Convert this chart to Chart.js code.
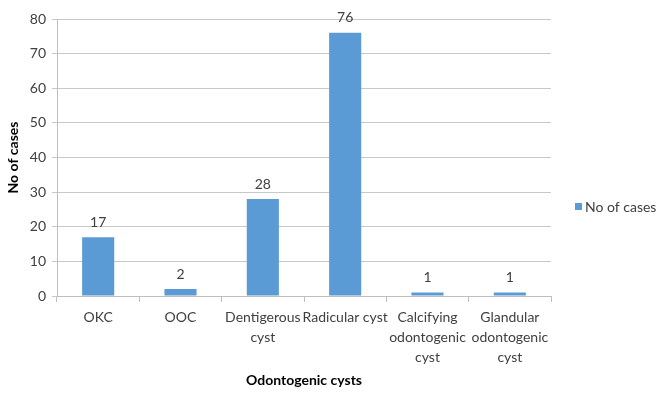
<!DOCTYPE html>
<html>
<head>
<meta charset="utf-8">
<script src="https://cdn.jsdelivr.net/npm/chart.js@4.4.0/dist/chart.umd.min.js"></script>
<style>
html,body{margin:0;padding:0;background:#fff;}
#wrap{width:662px;height:403px;position:relative;}
</style>
</head>
<body>
<div id="wrap"><canvas id="c" width="662" height="403"></canvas></div>
<script>
const categories = [["OKC"], ["OOC"], ["Dentigerous", "cyst"], ["Radicular cyst"], ["Calcifying", "odontogenic", "cyst"], ["Glandular", "odontogenic", "cyst"]];
const seriesName = "No of cases";
const values = [17, 2, 28, 76, 1, 1];
const yTicks = [0, 10, 20, 30, 40, 50, 60, 70, 80];
const xTitle = "Odontogenic cysts";
const yTitle = "No of cases";

const FONT = "Lato, 'Open Sans', sans-serif";
const BAR = "#5b9bd5";

const valueLabels = {
  id: 'valueLabels',
  afterDatasetsDraw(chart) {
    const ctx = chart.ctx;
    const meta = chart.getDatasetMeta(0);
    ctx.save();
    ctx.font = "14px " + FONT;
    ctx.fillStyle = "#404040";
    ctx.textAlign = "center";
    ctx.textBaseline = "middle";
    meta.data.forEach((el, i) => {
      ctx.fillText(String(values[i]), el.x, el.y - 15);
    });
    ctx.restore();
  }
};

const customLegend = {
  id: 'customLegend',
  afterDraw(chart) {
    const ctx = chart.ctx;
    ctx.save();
    ctx.fillStyle = BAR;
    ctx.fillRect(575, 203, 7, 7);
    ctx.font = "14px " + FONT;
    ctx.fillStyle = "#404040";
    ctx.textAlign = "left";
    ctx.textBaseline = "middle";
    ctx.fillText(seriesName, 585, 207);
    ctx.restore();
  }
};

new Chart(document.getElementById('c'), {
  type: 'bar',
  data: {
    labels: categories,
    datasets: [{
      label: seriesName,
      data: values,
      backgroundColor: BAR,
      borderWidth: 0,
      categoryPercentage: 1.0,
      barPercentage: 0.39
    }]
  },
  options: {
    responsive: false,
    animation: false,
    devicePixelRatio: 1,
    layout: { padding: { top: 19, right: 111, left: 0, bottom: 0 } },
    plugins: {
      legend: { display: false },
      tooltip: { enabled: false }
    },
    scales: {
      x: {
        grid: { display: true, drawOnChartArea: false, drawTicks: true, tickLength: 6, color: "#bfbfbf", offset: true },
        border: { display: true, color: "#bfbfbf" },
        ticks: {
          font: { family: FONT, size: 14, lineHeight: 1.45 },
          color: "#404040",
          maxRotation: 0,
          minRotation: 0,
          autoSkip: false,
          padding: 5
        },
        title: {
          display: true,
          text: xTitle,
          font: { family: FONT, size: 14, weight: 'bold' },
          color: "#000",
          padding: { top: 4, bottom: 14 }
        },
        afterFit(s) { s.height = 403 - 296; }
      },
      y: {
        min: 0,
        max: 80,
        afterBuildTicks(s) { s.ticks = yTicks.map(v => ({ value: v })); },
        grid: { color: "#c8c8c8", tickLength: 5, drawTicks: true },
        border: { display: true, color: "#bfbfbf" },
        ticks: {
          font: { family: FONT, size: 14 },
          color: "#404040",
          padding: 6
        },
        title: {
          display: true,
          text: yTitle,
          font: { family: FONT, size: 14, weight: 'bold' },
          color: "#000",
          padding: { top: 5, bottom: 6 }
        },
        afterFit(s) { s.width = 57; }
      }
    }
  },
  plugins: [valueLabels, customLegend]
});
</script>
</body>
</html>
